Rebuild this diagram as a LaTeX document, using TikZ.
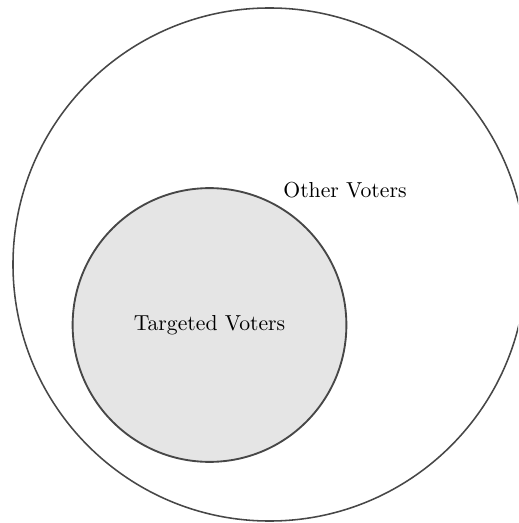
\documentclass[tikz,border=0pt]{standalone}
\usepackage{tikz}
\usetikzlibrary{calc}
\begin{document}
\begin{tikzpicture}[x=0.484pt,y=-0.484pt,
conjunt/.style ={circle, draw=black!72, line width=0.75pt, inner sep=0pt},
objectiu/.style ={circle, draw=black!72, line width=0.9pt, fill=black!10, inner sep=0pt}
]
\useasboundingbox (0,0) rectangle (518,523);
\clip (0,0) rectangle (518,523);
\draw (269.5,264.5) node[conjunt, minimum size=248.3pt] (T) {};
\draw (209.5,325) node[objectiu, minimum size=132.5pt] (D) {\fontsize{10.5}{12}\selectfont Targeted Voters};
\draw (345,190) node (L) {\fontsize{10.5}{12}\selectfont Other Voters};
\end{tikzpicture}
\end{document}
